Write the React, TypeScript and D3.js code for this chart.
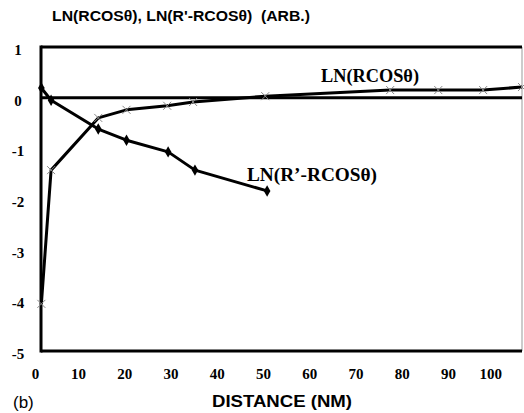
import * as d3 from "d3";

const W = 524;
const H = 413;
const MARGIN = { top: 47, right: 2, bottom: 62, left: 41 };

// LN(RCOSθ) - cross markers
const rcosX = [2, 4.1, 14.3, 20.4, 29.2, 34.8, 50.4, 77.4, 87.8, 97.5, 105.9];
const rcosY = [-4.07, -1.43, -0.4, -0.24, -0.16, -0.085, 0.03, 0.15, 0.15, 0.15, 0.21];

// LN(R'-RCOSθ) - diamond markers
const diffX = [2, 4.1, 14.3, 20.4, 29.4, 35.2, 50.8];
const diffY = [0.19, -0.05, -0.62, -0.84, -1.07, -1.43, -1.84];

const xTicks = [0, 10, 20, 30, 40, 50, 60, 70, 80, 90, 100];
const yTicks = [1, 0, -1, -2, -3, -4, -5];

const SERIF = "'Liberation Serif', 'Times New Roman', serif";
const SANS = "'Liberation Sans', Arial, sans-serif";

const App = () => {
  const x0 = MARGIN.left;
  const x1 = W - MARGIN.right;
  const y0 = MARGIN.top;
  const y1 = H - MARGIN.bottom;

  const xScale = d3.scaleLinear().domain([1.92, 105.9]).range([x0, x1]);
  const yScale = d3.scaleLinear().domain([-5, 1]).range([y1, y0]);

  const line = d3
    .line<[number, number]>()
    .x((d) => xScale(d[0]))
    .y((d) => yScale(d[1]));

  const rcos = rcosX.map((v, i) => [v, rcosY[i]] as [number, number]);
  const diff = diffX.map((v, i) => [v, diffY[i]] as [number, number]);

  const diamond = d3.symbol().type(d3.symbolDiamond).size(38)();

  return (
    <svg width={W} height={H} style={{ position: "absolute", left: 0, top: 0, background: "#fff" }}>
      {/* title */}
      <text x={52} y={21} fontFamily={SANS} fontWeight="bold" fontSize={14} xmlSpace="preserve"
        textLength={258} lengthAdjust="spacingAndGlyphs">
        LN(RCOSθ), LN(R'-RCOSθ)  (ARB.)
      </text>

      {/* frame */}
      <line x1={x1} x2={x1} y1={y0} y2={y1} stroke="#999" strokeWidth={1} />
      <line x1={x0} x2={x1} y1={y0} y2={y0} stroke="#000" strokeWidth={3} />
      <line x1={x0} x2={x1} y1={y1} y2={y1} stroke="#000" strokeWidth={3} />
      <line x1={x0} x2={x0} y1={y0 - 1.5} y2={y1 + 1.5} stroke="#000" strokeWidth={3} />
      {/* zero line */}
      <line x1={x0} x2={x1} y1={yScale(0)} y2={yScale(0)} stroke="#000" strokeWidth={3} />

      {/* y tick labels */}
      {yTicks.map((t) => (
        <text key={t} x={18} y={yScale(t) + 3} textAnchor="middle" dominantBaseline="central"
          fontFamily={SERIF} fontWeight="bold" fontSize={15}>
          {t}
        </text>
      ))}

      {/* x tick labels */}
      {xTicks.map((t) => {
        const nudge = t === 0 ? 3.5 : t === 100 ? -4 : 0;
        return (
          <text key={t} x={xScale(t) + nudge} y={379} textAnchor="middle"
            fontFamily={SERIF} fontWeight="bold" fontSize={15}>
            {t}
          </text>
        );
      })}

      {/* series */}
      <path d={line(rcos) ?? ""} fill="none" stroke="#000" strokeWidth={3} strokeLinejoin="round" />
      {rcos.map((d, i) => (
        <path key={i} d={`M-4,-4L4,4M-4,4L4,-4`} transform={`translate(${xScale(d[0])},${yScale(d[1])})`}
          stroke="#888" strokeWidth={1} fill="none" />
      ))}
      <path d={line(diff) ?? ""} fill="none" stroke="#000" strokeWidth={3} strokeLinejoin="round" />
      {diff.map((d, i) => (
        <path key={i} d={diamond ?? ""} transform={`translate(${xScale(d[0])},${yScale(d[1])})`} fill="#000" />
      ))}

      {/* series labels */}
      <text x={321} y={82} fontFamily={SERIF} fontWeight="bold" fontSize={18}
        textLength={98} lengthAdjust="spacingAndGlyphs">
        LN(RCOSθ)
      </text>
      <text x={247} y={181} fontFamily={SERIF} fontWeight="bold" fontSize={18}
        textLength={130} lengthAdjust="spacingAndGlyphs">
        LN(R’-RCOSθ)
      </text>

      {/* bottom labels */}
      <text x={13} y={408} fontFamily={SANS} fontSize={17}>(b)</text>
      <text x={212} y={407} fontFamily={SANS} fontWeight="bold" fontSize={17}
        textLength={140} lengthAdjust="spacingAndGlyphs">
        DISTANCE (NM)
      </text>
    </svg>
  );
};

export default App;
